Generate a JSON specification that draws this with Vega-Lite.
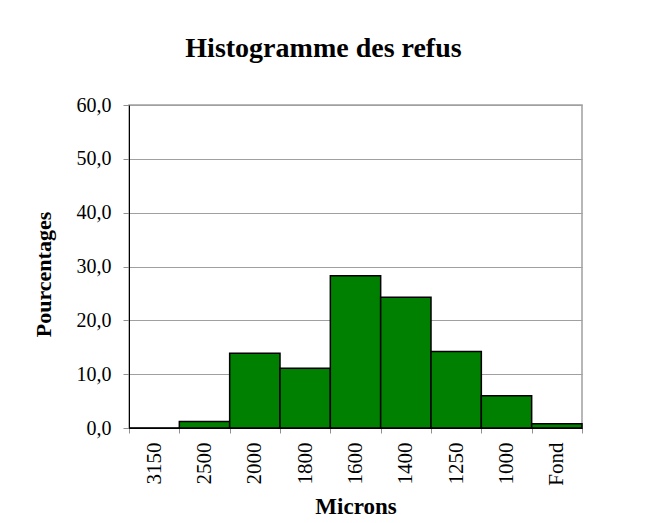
{
  "$schema": "https://vega.github.io/schema/vega-lite/v6.json",
  "autosize": "none",
  "width": 453,
  "height": 323,
  "padding": {"left": 129, "top": 105, "right": 72, "bottom": 95},
  "background": "white",
  "title": {
    "text": "Histogramme des refus",
    "font": "Liberation Serif",
    "fontSize": 28,
    "fontWeight": "bold",
    "color": "black",
    "anchor": "middle",
    "baseline": "alphabetic",
    "dx": -32,
    "offset": 10
  },
  "config": {
    "view": {"stroke": "#a0a0a0", "strokeWidth": 1.5},
    "font": "Liberation Serif"
  },
  "data": {
    "values": [
      {"microns": "3150", "pct": 0.0},
      {"microns": "2500", "pct": 1.2},
      {"microns": "2000", "pct": 13.9},
      {"microns": "1800", "pct": 11.1},
      {"microns": "1600", "pct": 28.3},
      {"microns": "1400", "pct": 24.3},
      {"microns": "1250", "pct": 14.2},
      {"microns": "1000", "pct": 6.0},
      {"microns": "Fond", "pct": 0.8}
    ]
  },
  "mark": {"type": "bar", "fill": "#008000", "stroke": "black", "strokeWidth": 1.5},
  "encoding": {
    "x": {
      "field": "microns",
      "type": "nominal",
      "sort": null,
      "scale": {"paddingInner": 0, "paddingOuter": 0},
      "axis": {
        "title": "Microns",
        "titleFont": "Liberation Serif",
        "titleFontSize": 23,
        "titleFontWeight": "bold",
        "titleColor": "black",
        "titlePadding": 10,
        "labelAngle": 270,
        "labelFont": "Liberation Serif",
        "labelFontSize": 21,
        "labelColor": "black",
        "labelPadding": 9,
        "labelBaseline": "middle",
        "labelAlign": "right",
        "domainColor": "black",
        "tickColor": "#909090",
        "tickSize": 5,
        "tickBand": "extent",
        "grid": false
      }
    },
    "y": {
      "field": "pct",
      "type": "quantitative",
      "scale": {"domain": [0, 60], "nice": false},
      "axis": {
        "title": "Pourcentages",
        "titleFont": "Liberation Serif",
        "titleFontSize": 22,
        "titleFontWeight": "bold",
        "titleColor": "black",
        "titlePadding": 21,
        "titleY": 169,
        "values": [0, 10, 20, 30, 40, 50, 60],
        "labelExpr": "replace(format(datum.value, '.1f'), '.', ',')",
        "labelFont": "Liberation Serif",
        "labelFontSize": 20,
        "labelColor": "black",
        "labelPadding": 12,
        "domainColor": "black",
        "tickColor": "#909090",
        "tickSize": 6,
        "grid": true,
        "gridColor": "#a0a0a0",
        "gridWidth": 1
      }
    }
  }
}
